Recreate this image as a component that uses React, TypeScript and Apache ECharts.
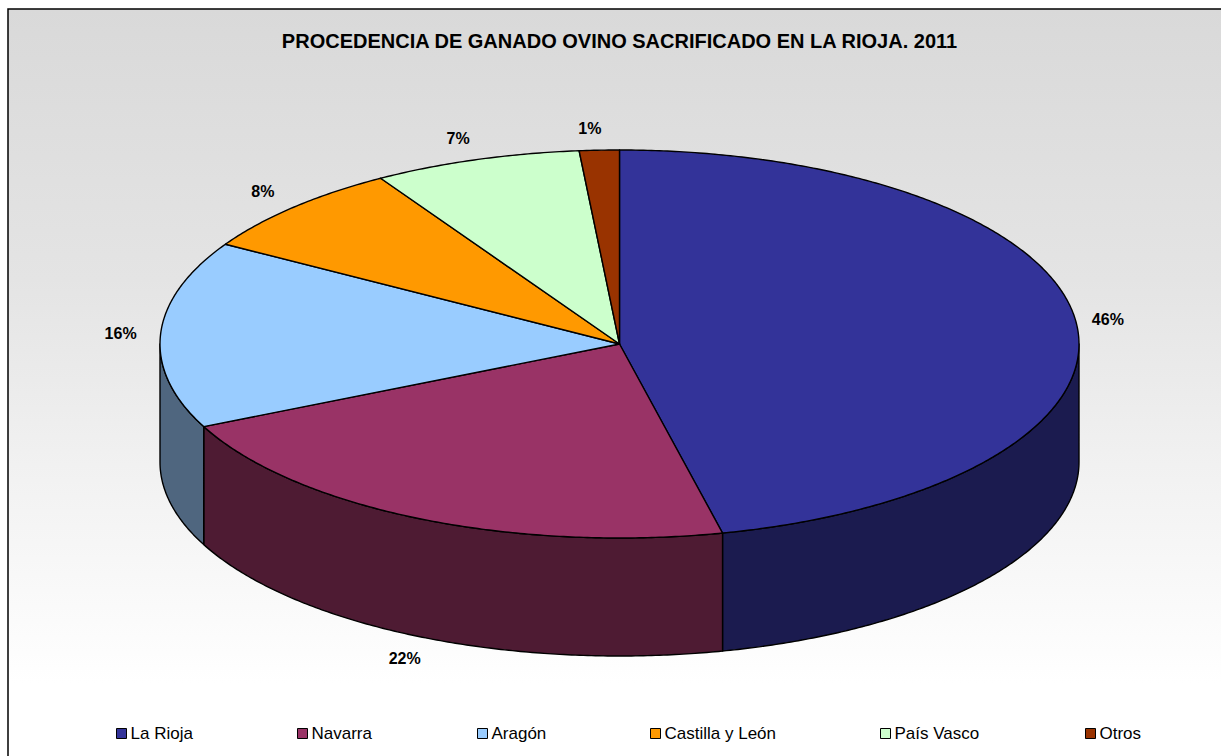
import React, { useEffect, useRef } from "react";
import * as echarts from "echarts";

const categories = ["La Rioja", "Navarra", "Aragón", "Castilla y León", "País Vasco", "Otros"];
const values = [46.4, 21.6, 15.6, 7.7, 7.3, 1.4];
const topColors = ["#333399", "#993366", "#99CCFF", "#FF9900", "#CCFFCC", "#993300"];
const sideColors = ["#1B1B4F", "#4E1B33", "#4F667F", "#804D00", "#668066", "#4D1A00"];
const titleText = "PROCEDENCIA DE GANADO OVINO SACRIFICADO EN LA RIOJA. 2011";

const legendX = [116, 297, 477, 650, 880, 1085];
const FONT = "'Liberation Sans', Arial, Helvetica, sans-serif";
const DEPTH = 118 / 194; // in y-axis units (ry = 1)

const total = values.reduce((a, b) => a + b, 0);
const starts: number[] = [];
values.reduce((acc, v) => {
  starts.push(acc);
  return acc + v;
}, 0);

function makeRenderItem(idx: number) {
  return (params: any, api: any) => {
    const start = api.value(0);
    const val = api.value(1);
    const t0 = (start / total) * Math.PI * 2;
    const t1 = ((start + val) / total) * Math.PI * 2;
    const pt = (t: number, dy = 0) => api.coord([Math.sin(t), Math.cos(t) - dy]);
    const arc = (a: number, b: number, dy = 0) => {
      const n = Math.max(2, Math.ceil(Math.abs(b - a) / (Math.PI / 360)));
      const out: number[][] = [];
      for (let k = 0; k <= n; k++) out.push(pt(a + ((b - a) * k) / n, dy));
      return out;
    };
    const children: any[] = [];
    const a = Math.max(t0, Math.PI / 2);
    const b = Math.min(t1, (Math.PI * 3) / 2);
    if (a < b) {
      const pts = arc(a, b).concat(arc(b, a, DEPTH));
      children.push({
        type: "polygon",
        shape: { points: pts },
        style: { fill: sideColors[idx], stroke: "#000", lineWidth: 1.4, lineJoin: "round" },
        z2: 1,
      });
    }
    const topPts = [api.coord([0, 0])].concat(arc(t0, t1));
    children.push({
      type: "polygon",
      shape: { points: topPts },
      style: { fill: topColors[idx], stroke: "#000", lineWidth: 1.4, lineJoin: "round" },
      z2: 2,
    });
    const tm = (t0 + t1) / 2;
    const front = Math.cos(tm) < 0;
    const lp = pt(tm, front ? DEPTH : 0);
    const pct = Math.round((val / total) * 100) + "%";
    children.push({
      type: "text",
      x: lp[0] + 32 * Math.sin(tm) - (Math.sin(tm) < 0 && Math.cos(tm) > 0 ? 8 : 0),
      y: lp[1] - 22 * Math.cos(tm) + (front ? 2 : 0),
      style: {
        text: pct,
        fill: "#000",
        font: `bold 16px ${FONT}`,
        align: "center",
        verticalAlign: "middle",
      },
      z2: 3,
    });
    return { type: "group", children };
  };
}

export default function App() {
  const ref = useRef<HTMLDivElement>(null);
  useEffect(() => {
    if (!ref.current) return;
    const chart = echarts.init(ref.current, undefined, { renderer: "svg" });
    const bg = new echarts.graphic.LinearGradient(0, 0, 0, 1, [
      { offset: 0, color: "#d9d9d9" },
      { offset: 0.3, color: "#e4e4e4" },
      { offset: 0.523, color: "#f2f2f2" },
      { offset: 0.75, color: "#ffffff" },
      { offset: 1, color: "#ffffff" },
    ]);
    chart.setOption({
      animation: false,
      title: {
        text: titleText,
        left: 619.5,
        top: 31,
        padding: 0,
        textAlign: "center",
        textStyle: { fontFamily: FONT, fontSize: 20, fontWeight: "bold", color: "#000" },
      },
      graphic: [
        {
          type: "rect",
          z: -10,
          silent: true,
          shape: { x: 8, y: 9, width: 1400, height: 900 },
          style: { fill: bg, stroke: "#000", lineWidth: 1.5 },
        },
      ],
      grid: { left: 160, top: 150, width: 919, height: 388, show: false },
      xAxis: { type: "value", min: -1, max: 1, show: false },
      yAxis: { type: "value", min: -1, max: 1, show: false },
      legend: categories.map((name, i) => ({
        data: [name],
        left: legendX[i],
        top: 725,
        padding: 0,
        icon: "rect",
        itemWidth: 10,
        itemHeight: 10,
        itemGap: 0,
        selectedMode: false,
        itemStyle: { borderColor: "#000", borderWidth: 1 },
        textStyle: { fontFamily: FONT, fontSize: 17, color: "#000", padding: [0, 0, 0, -1] },
      })),
      series: categories.map((name, i) => ({
        type: "custom",
        name,
        coordinateSystem: "cartesian2d",
        itemStyle: { color: topColors[i] },
        data: [[starts[i], values[i]]],
        renderItem: makeRenderItem(i),
        clip: false,
      })),
    });
    return () => chart.dispose();
  }, []);
  return (
    <div
      ref={ref}
      style={{ position: "absolute", left: 0, top: 0, width: 1221, height: 756 }}
    />
  );
}
